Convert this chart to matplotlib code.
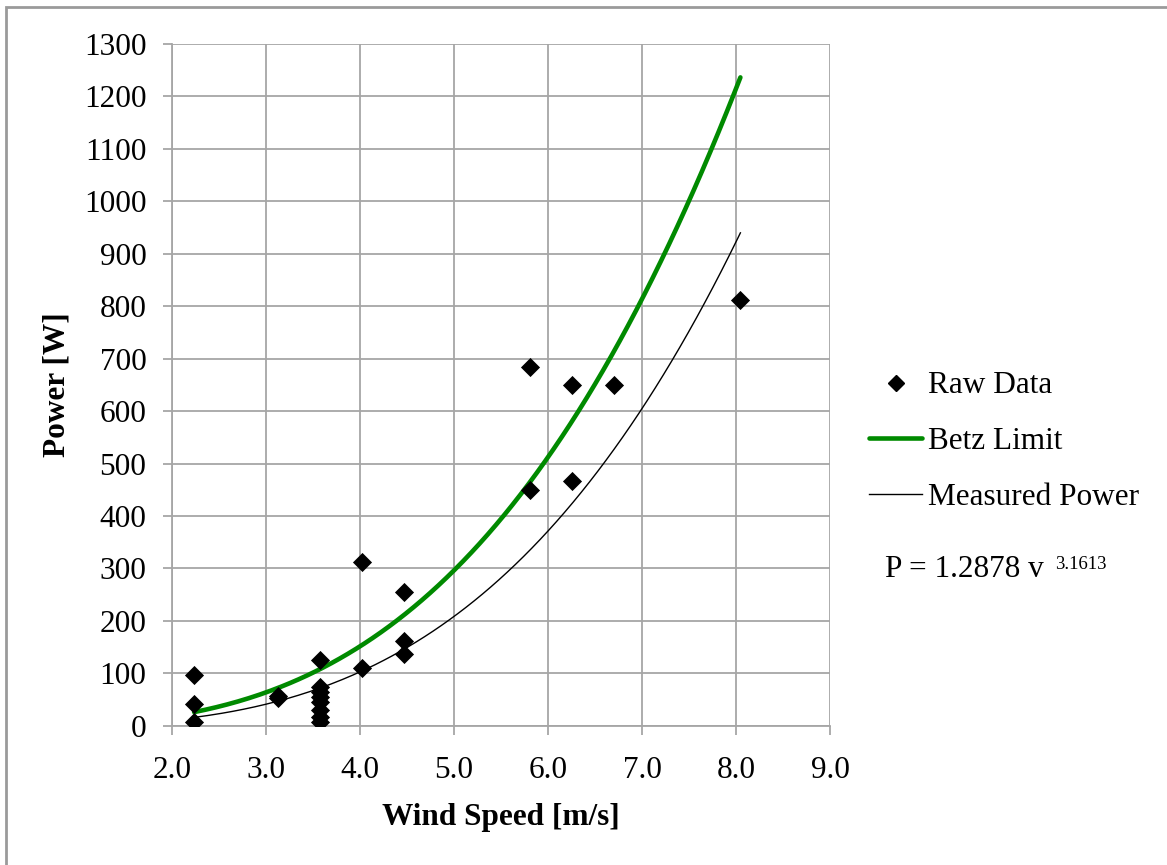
import numpy as np
import matplotlib
matplotlib.use('Agg')
import matplotlib.pyplot as plt
from matplotlib.lines import Line2D
from matplotlib.patches import Rectangle

plt.rcParams['font.family'] = ['Liberation Serif', 'DejaVu Serif']

# raw measurements (wind speed in m/s, power in W)
wind_speed = [2.235, 2.235, 2.235,
              3.129, 3.129,
              3.576, 3.576, 3.576, 3.576, 3.576, 3.576, 3.576, 3.576,
              4.023, 4.023,
              4.470, 4.470, 4.470,
              5.811, 5.811,
              6.258, 6.258,
              6.706,
              8.047]
power = [97, 42, 8,
         58, 53,
         125, 75, 65, 55, 45, 30, 18, 8,
         312, 110,
         255, 162, 137,
         684, 450,
         650, 467,
         650,
         811]

# fitted curves
fit_coef = 1.2878
fit_exp = 3.1613
betz_coef = 2.371

x_ticks = [2.0, 3.0, 4.0, 5.0, 6.0, 7.0, 8.0, 9.0]
y_ticks = list(range(0, 1400, 100))

v = np.linspace(min(wind_speed), max(wind_speed), 200)
betz = betz_coef * v ** 3
measured = fit_coef * v ** fit_exp

fig = plt.figure(figsize=(11.67, 8.65), dpi=100)
ax = fig.add_axes([0.1474, 0.1607, 0.7112 - 0.1474, 0.9497 - 0.1607])

grid_col = '#a6a6a6'
ax.scatter(wind_speed, power, marker='D', s=95, color='black', zorder=4, linewidths=0)
ax.plot(v, betz, color='#008a00', lw=3.3, zorder=3, solid_capstyle='round')
ax.plot(v, measured, color='black', lw=1.0, zorder=3)

ax.set_xlim(2, 9)
ax.set_ylim(0, 1300)
ax.set_xticks(x_ticks)
ax.set_xticklabels([f'{t:.1f}' for t in x_ticks])
ax.set_yticks(y_ticks)
ax.grid(True, color=grid_col, lw=1.3)
ax.set_axisbelow(True)
for s in ['top', 'right']:
    ax.spines[s].set_visible(False)
for s in ['left', 'bottom']:
    ax.spines[s].set_color(grid_col)
    ax.spines[s].set_linewidth(1.3)
ax.tick_params(axis='both', colors=grid_col, labelcolor='black', labelsize=22.5,
               direction='out', length=6.5, width=1.3)
ax.tick_params(axis='x', pad=15)
ax.tick_params(axis='y', pad=12)

ax.set_xlabel('Wind Speed [m/s]', fontsize=22.5, fontweight='bold', labelpad=13)
ax.set_ylabel('Power [W]', fontsize=22.5, fontweight='bold', labelpad=9)

handles = [
    Line2D([], [], marker='D', color='black', ls='none', markersize=8),
    Line2D([], [], color='#008a00', lw=3.3, solid_capstyle='round'),
    Line2D([], [], color='black', lw=1.0),
]
fig.legend(handles, ['Raw Data', 'Betz Limit', 'Measured Power'],
           loc='upper left', bbox_to_anchor=(0.734, 0.585), frameon=False,
           fontsize=22.5, handlelength=1.7, handletextpad=0.2, labelspacing=0.85,
           borderaxespad=0)

fig.text(885 / 1167, 1 - 577 / 865, 'P = 1.2878 v', fontsize=22.5, va='baseline')
fig.text(1055 / 1167, 1 - 569 / 865, f'{fit_exp}', fontsize=13.5, va='baseline')

# outer chart frame
fig.patches.append(Rectangle((6 / 1167, -0.05), 1.2, 1 - 7 / 865 + 0.05,
                             transform=fig.transFigure, fill=False,
                             edgecolor='#9a9a9a', lw=2))

fig.savefig('out.png', dpi=100)
